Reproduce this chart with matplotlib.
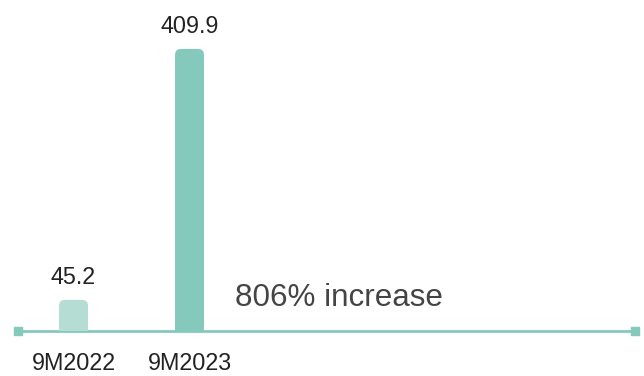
import matplotlib
matplotlib.use("Agg")
import matplotlib.pyplot as plt
from matplotlib.patches import FancyBboxPatch, Rectangle

categories = ["9M2022", "9M2023"]
values = [45.2, 409.9]
value_labels = ["45.2", "409.9"]
bar_colors = ["#B5DDD4", "#84C9BC"]
note = "806% increase"

plt.rcParams["font.family"] = ["Liberation Sans", "DejaVu Sans"]

W, H, DPI = 644, 376, 100
fig = plt.figure(figsize=(W / DPI, H / DPI), dpi=DPI)
ax = fig.add_axes([0, 0, 1, 1])
ax.set_xlim(-0.634, 4.918)
ax.set_ylim(-65.4, 481)
ax.axis("off")

# pixel-per-unit scales for rounded corners
px_x = W / (4.918 + 0.634)
px_y = H / (481 + 65.4)
aspect = px_x / px_y

bar_w = 0.25
radius_px = 6
r = radius_px / px_x
text_color = "#222222"
line_color = "#84C9BC"
pt = 72 / DPI  # points per pixel

# baseline with square end caps
ax.plot([-0.478, 4.84], [0, 0], color=line_color, lw=2, zorder=1,
        solid_capstyle="butt")
ax.plot([-0.478, 4.84], [0, 0], ls="none", marker="s", ms=6,
        color=line_color, zorder=1)

for i, (v, lab, c, cat) in enumerate(zip(values, value_labels, bar_colors, categories)):
    x0 = i - bar_w / 2
    p = FancyBboxPatch((x0, 0), bar_w, v,
                       boxstyle=f"round,pad=0,rounding_size={r}",
                       mutation_aspect=aspect, fc=c, ec="none", zorder=2)
    ax.add_patch(p)
    ax.add_patch(Rectangle((x0, 0), bar_w, min(v, r * aspect * 1.5),
                           fc=c, ec="none", zorder=2))
    ax.annotate(lab, (i, v), xytext=(0, 16 * pt), textcoords="offset points",
                ha="center", va="baseline", fontsize=16.8, color=text_color)
    ax.annotate(cat, (i, 0), xytext=(0, -39 * pt), textcoords="offset points",
                ha="center", va="baseline", fontsize=16.8, color=text_color)

ax.annotate(note, (1.391, 0), xytext=(0, 25 * pt), textcoords="offset points",
            ha="left", va="baseline", fontsize=22.6, color="#444444")

fig.savefig("out.png", dpi=DPI)
